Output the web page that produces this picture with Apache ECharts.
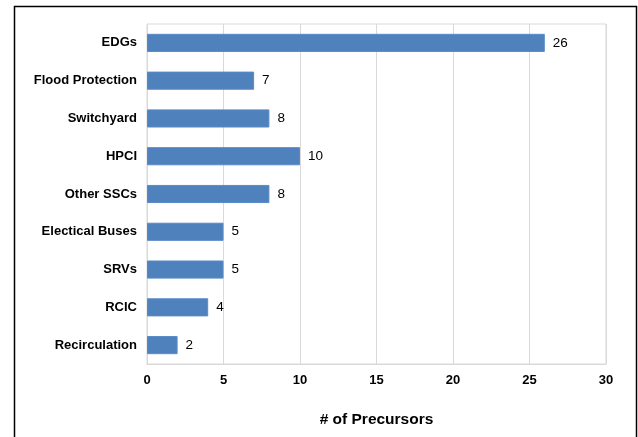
<!DOCTYPE html>
<html>
<head>
<meta charset="utf-8">
<script src="https://cdn.jsdelivr.net/npm/echarts@6/dist/echarts.min.js"></script>
<style>
  html, body { margin: 0; padding: 0; background: #fff; }
  #chart { width: 638px; height: 437px; }
</style>
</head>
<body>
<div id="chart"></div>
<script>
// Precursor counts per system, listed top to bottom
const categories = [
  'EDGs', 'Flood Protection', 'Switchyard', 'HPCI', 'Other SSCs',
  'Electical Buses', 'SRVs', 'RCIC', 'Recirculation'
];
const precursors = [26, 7, 8, 10, 8, 5, 5, 4, 2];
const xTicks = { min: 0, max: 30, interval: 5 };
const axisTitle = '# of Precursors';

const chart = echarts.init(document.getElementById('chart'), null, { renderer: 'canvas' });

chart.setOption({
  animation: false,
  backgroundColor: '#ffffff',
  graphic: [{
    type: 'rect',
    left: 12, top: 4,
    shape: { width: 622, height: 445 },
    style: { fill: 'none', stroke: '#000000', lineWidth: 1.5 },
    silent: true, z: 100
  }],
  grid: {
    left: 147, right: 32, top: 24, bottom: 73,
    show: true, borderColor: '#d9d9d9', borderWidth: 1,
    containLabel: false
  },
  xAxis: {
    type: 'value',
    min: xTicks.min, max: xTicks.max, interval: xTicks.interval,
    name: axisTitle,
    nameLocation: 'middle',
    nameGap: 48,
    nameTextStyle: { fontFamily: 'Liberation Sans', fontWeight: 'bold', fontSize: 15.5, color: '#000' },
    axisLine: { show: true, lineStyle: { color: '#d9d9d9' } },
    axisTick: { show: false },
    axisLabel: { fontFamily: 'Liberation Sans', fontWeight: 'bold', fontSize: 13, color: '#000', margin: 10 },
    splitLine: { show: true, lineStyle: { color: '#d9d9d9', width: 1 } }
  },
  yAxis: {
    type: 'category',
    data: categories,
    inverse: true,
    axisLine: { show: true, lineStyle: { color: '#d9d9d9' } },
    axisTick: { show: false },
    axisLabel: { fontFamily: 'Liberation Sans', fontWeight: 'bold', fontSize: 13, color: '#000', margin: 10 },
    splitLine: { show: false }
  },
  series: [{
    type: 'bar',
    data: precursors,
    barWidth: '48%',
    itemStyle: { color: '#4f81bd', borderColor: '#5a8ac6', borderWidth: 1 },
    label: {
      show: true, position: 'right', distance: 8,
      fontFamily: 'Liberation Sans', fontSize: 13.5, color: '#000'
    }
  }]
});
</script>
</body>
</html>
